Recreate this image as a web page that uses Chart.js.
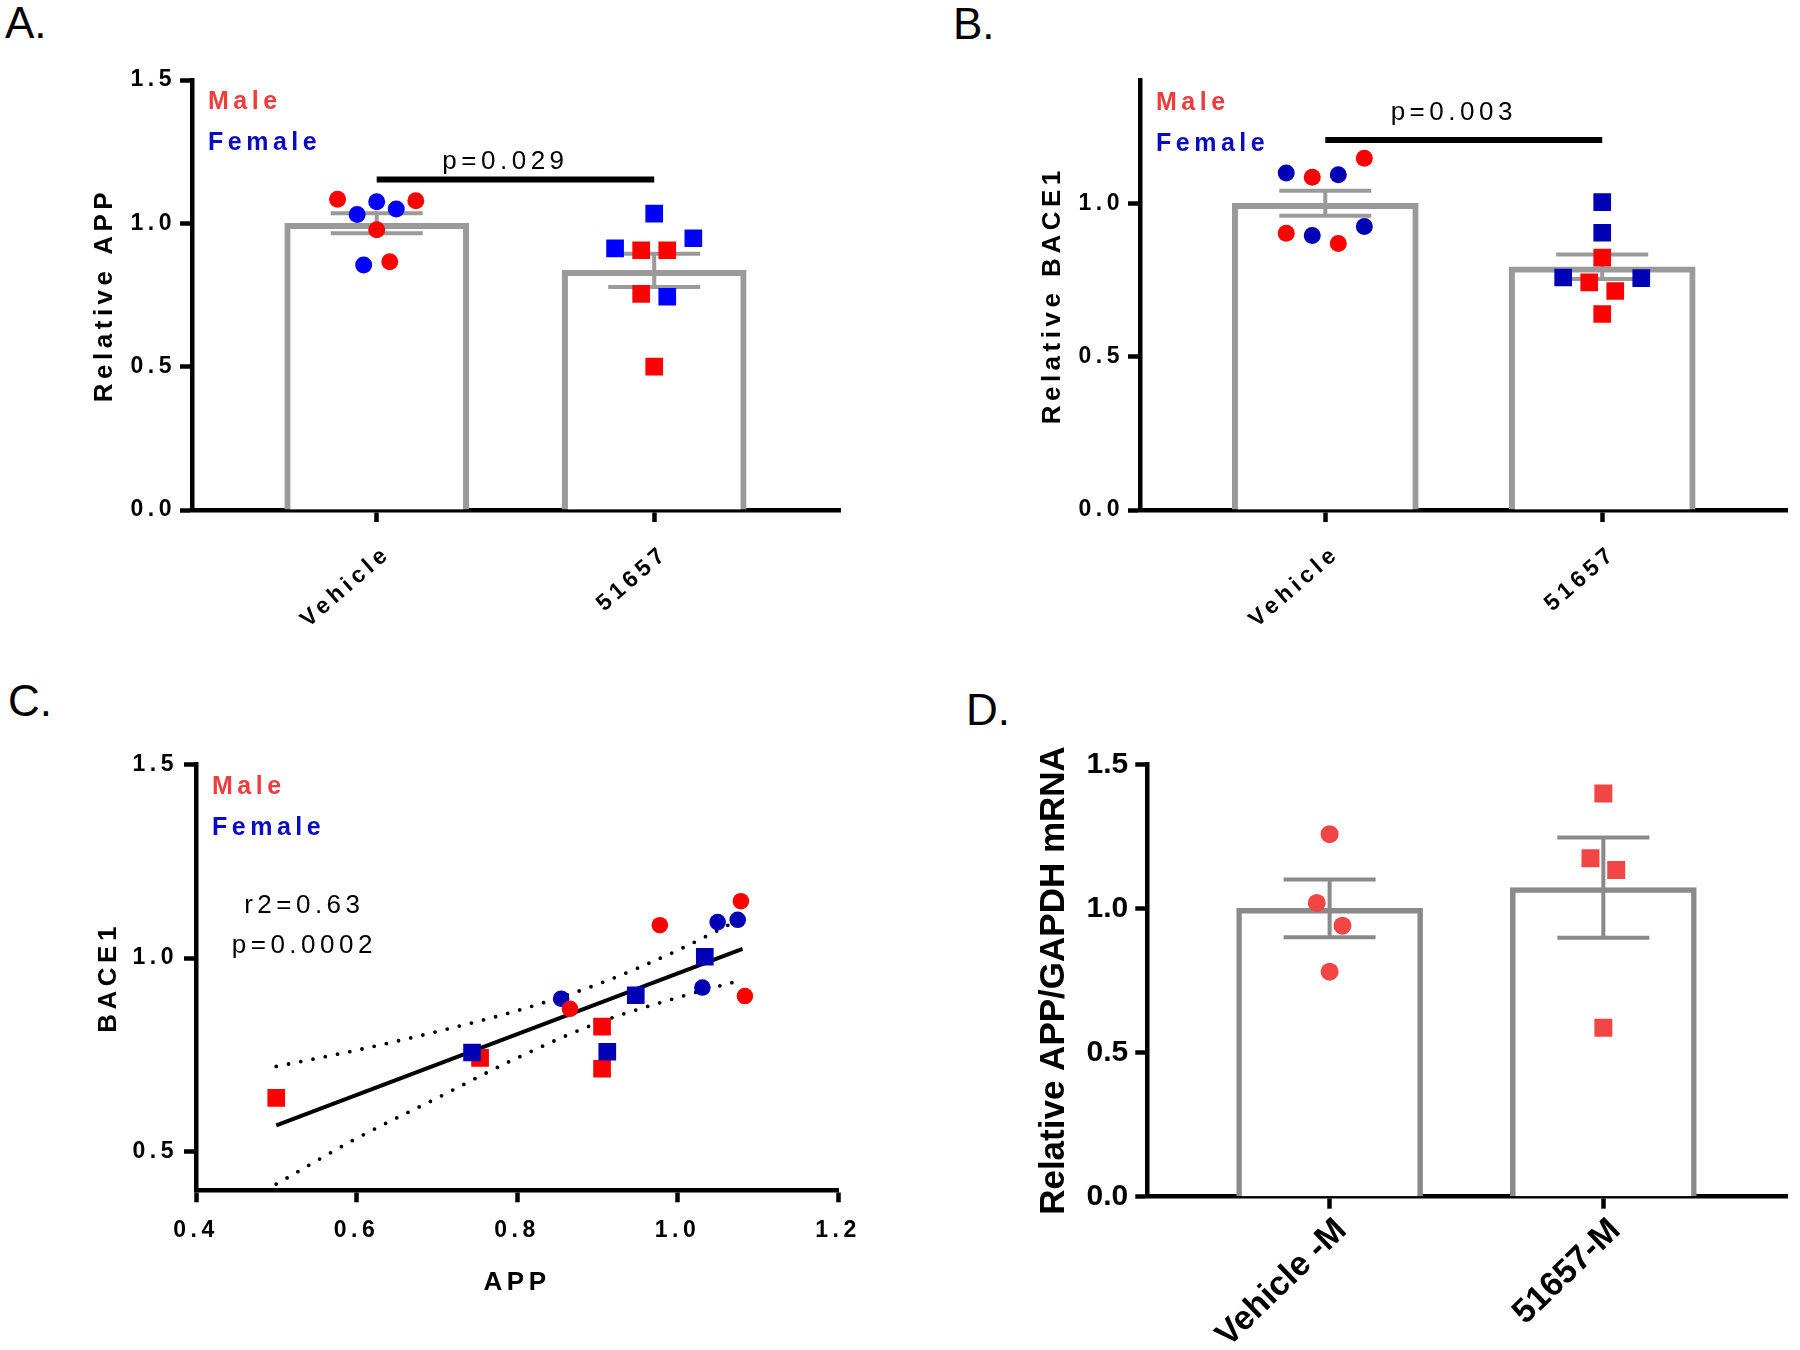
<!DOCTYPE html>
<html lang="en">
<head>
<meta charset="UTF-8">
<title>APP and BACE1</title>
<style>
  body { margin: 0; background: #fff; }
  #page { position: relative; width: 1800px; height: 1350px; overflow: hidden; background: #fff;
          font-family: "Liberation Sans", Arial, sans-serif; }
  canvas { position: absolute; }
  .tag { position: absolute; font-size: 44px; line-height: 1; color: #000; }
</style>
</head>
<body>
<div id="page">
  <div class="tag" style="left:5px;top:1px">A.</div>
  <div class="tag" style="left:953px;top:2px">B.</div>
  <div class="tag" style="left:8px;top:679px">C.</div>
  <div class="tag" style="left:966px;top:688px">D.</div>
  <canvas id="chartA" width="900" height="675" style="left:0;top:0"></canvas>
  <canvas id="chartB" width="900" height="675" style="left:900px;top:0"></canvas>
  <canvas id="chartC" width="900" height="675" style="left:0;top:675px"></canvas>
  <canvas id="chartD" width="900" height="675" style="left:900px;top:675px"></canvas>
</div>
<script src="https://cdn.jsdelivr.net/npm/chart.js"></script>
<script>
// ---- data ----
const groups = ['Vehicle', '51657'];
const groupsD = ['Vehicle -M', '51657-M'];

// one entry per animal, same order in A, B and C
const sexVehicle = ['M', 'F', 'M', 'F', 'F', 'M', 'F', 'M'];
const appVehicle = [1.084, 0.855, 0.866, 1.031, 1.075, 0.978, 1.05, 1.079];
const baceVehicle = [0.902, 0.895, 0.869, 0.924, 1.099, 1.085, 1.093, 1.147];

const sex51657 = ['F', 'M', 'M', 'M', 'F', 'F', 'F', 'M'];
const app51657 = [0.9125, 0.754, 0.906, 0.906, 0.744, 0.948, 1.034, 0.5];
const bace51657 = [0.758, 0.742, 0.714, 0.823, 0.756, 0.904, 1.0035, 0.639];

const appMean = [1.0, 0.836];
const appSem = [0.035, 0.058];
const baceMean = [1.0, 0.793];
const baceSem = [0.041, 0.040];

// C: linear fit and 95% band
const fitX = [0.5, 1.081];
const fitY = [0.568, 1.024];
const bandX = [0.5, 0.6, 0.7, 0.8, 0.9, 1.0, 1.081];
const bandUpper = [0.72, 0.762, 0.81, 0.864, 0.932, 1.02, 1.104];
const bandLower = [0.416, 0.534, 0.638, 0.742, 0.832, 0.898, 0.944];

// D: males only
const mrnaVehicle = [1.2575, 1.019, 0.94, 0.7807];
const mrna51657 = [1.399, 1.174, 1.133, 0.586];
const mrnaMean = [1.0, 1.072];
const mrnaSem = [0.1, 0.174];

// ---- styling ----
const FONT = '"Liberation Sans", Arial, sans-serif';
const RED = '#ff0000';
const BLUE_A = '#0000ff';
const BLUE = '#0000b4';
const CORAL = '#f24646';
const GRAY = '#9a9a9a';
const GRAY_D = '#8a8a8a';
const MALE_TXT = '#f03c3c';
const FEMALE_TXT = '#0b0bc4';

Chart.defaults.font.family = FONT;
Chart.defaults.color = '#000';
Chart.defaults.animation = false;
Chart.defaults.events = [];
Chart.defaults.plugins.legend.display = false;
Chart.defaults.plugins.tooltip.enabled = false;

// spread points of a column sideways, GraphPad style
function spread(vals, tol, step) {
  const order = vals.map((v, i) => i).sort((a, b) => vals[b] - vals[a]);
  const off = vals.map(() => 0);
  let row = [];
  const flush = () => {
    row.sort((a, b) => a - b);
    const n = row.length;
    const w = n > 1 ? Math.min(2 * step, 6 * step / (n - 1)) : 0;
    row.forEach((k, j) => { off[k] = (j - (n - 1) / 2) * w; });
    row = [];
  };
  order.forEach(k => {
    if (row.length && vals[row[row.length - 1]] - vals[k] > tol) flush();
    row.push(k);
  });
  flush();
  return off;
}

function points(vals, sex, want, group, offs) {
  const out = [];
  vals.forEach((v, i) => {
    if (!want || sex[i] === want) out.push({ x: group + offs[i], y: v });
  });
  return out;
}

function pairs(xs, ys, sex, want) {
  const out = [];
  xs.forEach((v, i) => { if (sex[i] === want) out.push({ x: v, y: ys[i] }); });
  return out;
}

function dot(data, color, style, r, order) {
  return { type: 'scatter', data: data, order: order, pointStyle: style, pointRadius: r,
           pointBackgroundColor: color, pointBorderWidth: 0 };
}

function groupSets(v0, v1, tol, blue) {
  const o0 = spread(v0, tol, 0.047), o1 = spread(v1, tol, 0.047);
  return [
    dot(points(v0, sexVehicle, 'F', 0, o0), blue, 'circle', 8.5, 4),
    dot(points(v0, sexVehicle, 'M', 0, o0), RED, 'circle', 8.5, 3),
    dot(points(v1, sex51657, 'M', 1, o1), RED, 'rect', 12.5, 2),
    dot(points(v1, sex51657, 'F', 1, o1), blue, 'rect', 12.5, 1)
  ];
}

function barSet(mean, color, bw, thick) {
  return { type: 'bar', data: mean.map((m, i) => ({ x: i, y: m })), order: 10,
           backgroundColor: '#fff', borderColor: color, borderWidth: bw, barThickness: thick };
}

function axis(o) {
  const ticks = { color: '#000', font: o.tickFont, autoSkip: false, padding: o.pad, callback: o.label };
  if (o.rot) { ticks.minRotation = o.rot; ticks.maxRotation = o.rot; ticks.labelOffset = o.shift; }
  else { ticks.maxRotation = 0; }
  return {
    type: 'linear', bounds: 'data', min: o.min, max: o.max, offset: false,
    afterBuildTicks: s => { s.ticks = o.ticks.map(v => ({ value: v })); },
    afterFit: o.fit,
    grid: { display: true, drawOnChartArea: false, drawTicks: true, tickLength: 12, tickWidth: 4.5,
            tickColor: '#000', offset: false },
    border: { display: true, color: '#000', width: 4.5 },
    title: o.title ? { display: true, text: o.title, color: '#000', padding: 0, font: o.titleFont }
                   : { display: false },
    ticks: ticks
  };
}

// letter spacing for the GraphPad-like panels
function tracking(px) {
  return {
    id: 'tracking',
    beforeLayout(chart) { chart.ctx.letterSpacing = px + 'px'; },
    beforeDraw(chart) { chart.ctx.letterSpacing = px + 'px'; }
  };
}

// error bars, sex key, significance bar, notes
function marks(cfg) {
  return {
    id: 'marks',
    afterDatasetDraw(chart, args) {
      if (!cfg.mean || args.meta.type !== 'bar') return;
      const { ctx, scales: { x, y } } = chart;
      ctx.save();
      ctx.strokeStyle = cfg.errColor;
      ctx.lineWidth = 4;
      cfg.mean.forEach((m, i) => {
        const px = x.getPixelForValue(i);
        const hi = y.getPixelForValue(m + cfg.sem[i]);
        const lo = y.getPixelForValue(m - cfg.sem[i]);
        ctx.beginPath();
        ctx.moveTo(px, hi); ctx.lineTo(px, lo);
        ctx.moveTo(px - 46, hi); ctx.lineTo(px + 46, hi);
        ctx.moveTo(px - 46, lo); ctx.lineTo(px + 46, lo);
        ctx.stroke();
      });
      ctx.restore();
    },
    afterDraw(chart) {
      const { ctx, chartArea: a, scales: { x, y } } = chart;
      ctx.save();
      ctx.textBaseline = 'alphabetic';
      if (cfg.key) {
        ctx.font = 'bold 25px ' + FONT;
        ctx.textAlign = 'left';
        ctx.fillStyle = MALE_TXT;
        ctx.fillText('Male', a.left + 16, a.top + 29);
        ctx.fillStyle = FEMALE_TXT;
        ctx.fillText('Female', a.left + 16, a.top + 70);
      }
      ctx.fillStyle = '#000';
      ctx.font = '26px ' + FONT;
      ctx.textAlign = 'center';
      if (cfg.sig) {
        const x1 = x.getPixelForValue(0), x2 = x.getPixelForValue(1);
        const py = y.getPixelForValue(cfg.sig.y);
        ctx.strokeStyle = '#000';
        ctx.lineWidth = 6;
        ctx.beginPath(); ctx.moveTo(x1, py); ctx.lineTo(x2, py); ctx.stroke();
        ctx.fillText(cfg.sig.text, (x1 + x2) / 2 - 10, y.getPixelForValue(cfg.sig.textY));
      }
      (cfg.notes || []).forEach(n => {
        ctx.fillText(n.text, x.getPixelForValue(n.x), y.getPixelForValue(n.y));
      });
      ctx.restore();
    }
  };
}

const tickBold = { size: 23, weight: 'bold' };
const titleBold = { size: 26, weight: 'bold' };
const oneDec = v => v.toFixed(1);

// ---- A: relative APP ----
new Chart(document.getElementById('chartA'), {
  type: 'bar',
  data: { datasets: groupSets(appVehicle, app51657, 0.05, BLUE_A).concat([barSet(appMean, GRAY, 6, 184)]) },
  options: {
    responsive: false,
    layout: { padding: { left: 89, top: 80, right: 59.3, bottom: 0 } },
    scales: {
      x: axis({ min: -0.6656, max: 1.672, ticks: [0, 1], label: v => groups[v], tickFont: tickBold,
                pad: 18, rot: 41, shift: 11, fit: s => { s.height = 165; } }),
      y: axis({ min: 0, max: 1.5, ticks: [0, 0.5, 1, 1.5], label: oneDec, tickFont: tickBold, pad: 4,
                title: 'Relative APP', titleFont: titleBold, fit: s => { s.width = 103; } })
    }
  },
  plugins: [tracking(4.5), marks({ mean: appMean, sem: appSem, errColor: GRAY, key: true,
                                   sig: { y: 1.153, textY: 1.189, text: 'p=0.029' } })]
});

// ---- B: relative BACE1 ----
new Chart(document.getElementById('chartB'), {
  type: 'bar',
  data: { datasets: groupSets(baceVehicle, bace51657, 0.05, BLUE).concat([barSet(baceMean, GRAY, 6, 186)]) },
  options: {
    responsive: false,
    layout: { padding: { left: 137, top: 80.6, right: 9.2, bottom: 0 } },
    scales: {
      x: axis({ min: -0.669, max: 1.669, ticks: [0, 1], label: v => groups[v], tickFont: tickBold,
                pad: 18, rot: 41, shift: 11, fit: s => { s.height = 165; } }),
      y: axis({ min: 0, max: 1.4, ticks: [0, 0.5, 1], label: oneDec, tickFont: tickBold, pad: 4,
                title: 'Relative BACE1', titleFont: titleBold, fit: s => { s.width = 103; } })
    }
  },
  plugins: [tracking(4.5), marks({ mean: baceMean, sem: baceSem, errColor: GRAY, key: true,
                                   sig: { y: 1.206, textY: 1.2716, text: 'p=0.003' } })]
});

// ---- C: BACE1 vs APP ----
new Chart(document.getElementById('chartC'), {
  type: 'scatter',
  data: {
    datasets: [
      dot(pairs(appVehicle, baceVehicle, sexVehicle, 'F'), BLUE, 'circle', 8.3, 4),
      dot(pairs(appVehicle, baceVehicle, sexVehicle, 'M'), RED, 'circle', 8.3, 3),
      dot(pairs(app51657, bace51657, sex51657, 'M'), RED, 'rect', 12.5, 2),
      dot(pairs(app51657, bace51657, sex51657, 'F'), BLUE, 'rect', 12.5, 1),
      { type: 'line', data: fitX.map((v, i) => ({ x: v, y: fitY[i] })), order: 20,
        borderColor: '#000', borderWidth: 4, pointRadius: 0, fill: false },
      { type: 'line', data: bandX.map((v, i) => ({ x: v, y: bandUpper[i] })), order: 21,
        borderColor: '#000', borderWidth: 3.8, borderDash: [0, 12.5], borderCapStyle: 'round',
        cubicInterpolationMode: 'monotone', pointRadius: 0, fill: false },
      { type: 'line', data: bandX.map((v, i) => ({ x: v, y: bandLower[i] })), order: 22,
        borderColor: '#000', borderWidth: 3.8, borderDash: [0, 12.5], borderCapStyle: 'round',
        cubicInterpolationMode: 'monotone', pointRadius: 0, fill: false }
    ]
  },
  options: {
    responsive: false,
    layout: { padding: { left: 93, top: 89.6, right: 62, bottom: 52 } },
    scales: {
      x: axis({ min: 0.4, max: 1.2, ticks: [0.4, 0.6, 0.8, 1.0, 1.2], label: oneDec, tickFont: tickBold,
                pad: 15, title: 'APP', titleFont: titleBold, fit: s => { s.height = 107.7; } }),
      y: axis({ min: 0.4, max: 1.5, ticks: [0.5, 1, 1.5], label: oneDec, tickFont: tickBold, pad: 6,
                title: 'BACE1', titleFont: titleBold, fit: s => { s.width = 103; } })
    }
  },
  plugins: [tracking(4.5), marks({ key: true, notes: [
    { text: 'r2=0.63', x: 0.535, y: 1.117 },
    { text: 'p=0.0002', x: 0.535, y: 1.0137 }
  ] })]
});

// ---- D: APP mRNA, males ----
const offDV = spread(mrnaVehicle, 0.085, 0.047);
const offD5 = spread(mrna51657, 0.085, 0.047);
new Chart(document.getElementById('chartD'), {
  type: 'bar',
  data: {
    datasets: [
      dot(points(mrnaVehicle, null, null, 0, offDV), CORAL, 'circle', 9, 2),
      dot(points(mrna51657, null, null, 1, offD5), CORAL, 'rect', 12.7, 1),
      barSet(mrnaMean, GRAY_D, 5.5, 186)
    ]
  },
  options: {
    responsive: false,
    layout: { padding: { left: 133, top: 89.3, right: 2, bottom: 0 } },
    scales: {
      x: axis({ min: -0.666, max: 1.672, ticks: [0, 1], label: v => groupsD[v],
                tickFont: { size: 34, weight: 'bold' }, pad: 2, rot: 44, shift: 12,
                fit: s => { s.height = 153.3; } }),
      y: axis({ min: 0, max: 1.5, ticks: [0, 0.5, 1, 1.5], label: oneDec,
                tickFont: { size: 30, weight: 'bold' }, pad: 7,
                title: 'Relative APP/GAPDH mRNA', titleFont: { size: 35, weight: 'bold' },
                fit: s => { s.width = 114.3; } })
    }
  },
  plugins: [tracking(0), marks({ mean: mrnaMean, sem: mrnaSem, errColor: GRAY_D })]
});
</script>
</body>
</html>
